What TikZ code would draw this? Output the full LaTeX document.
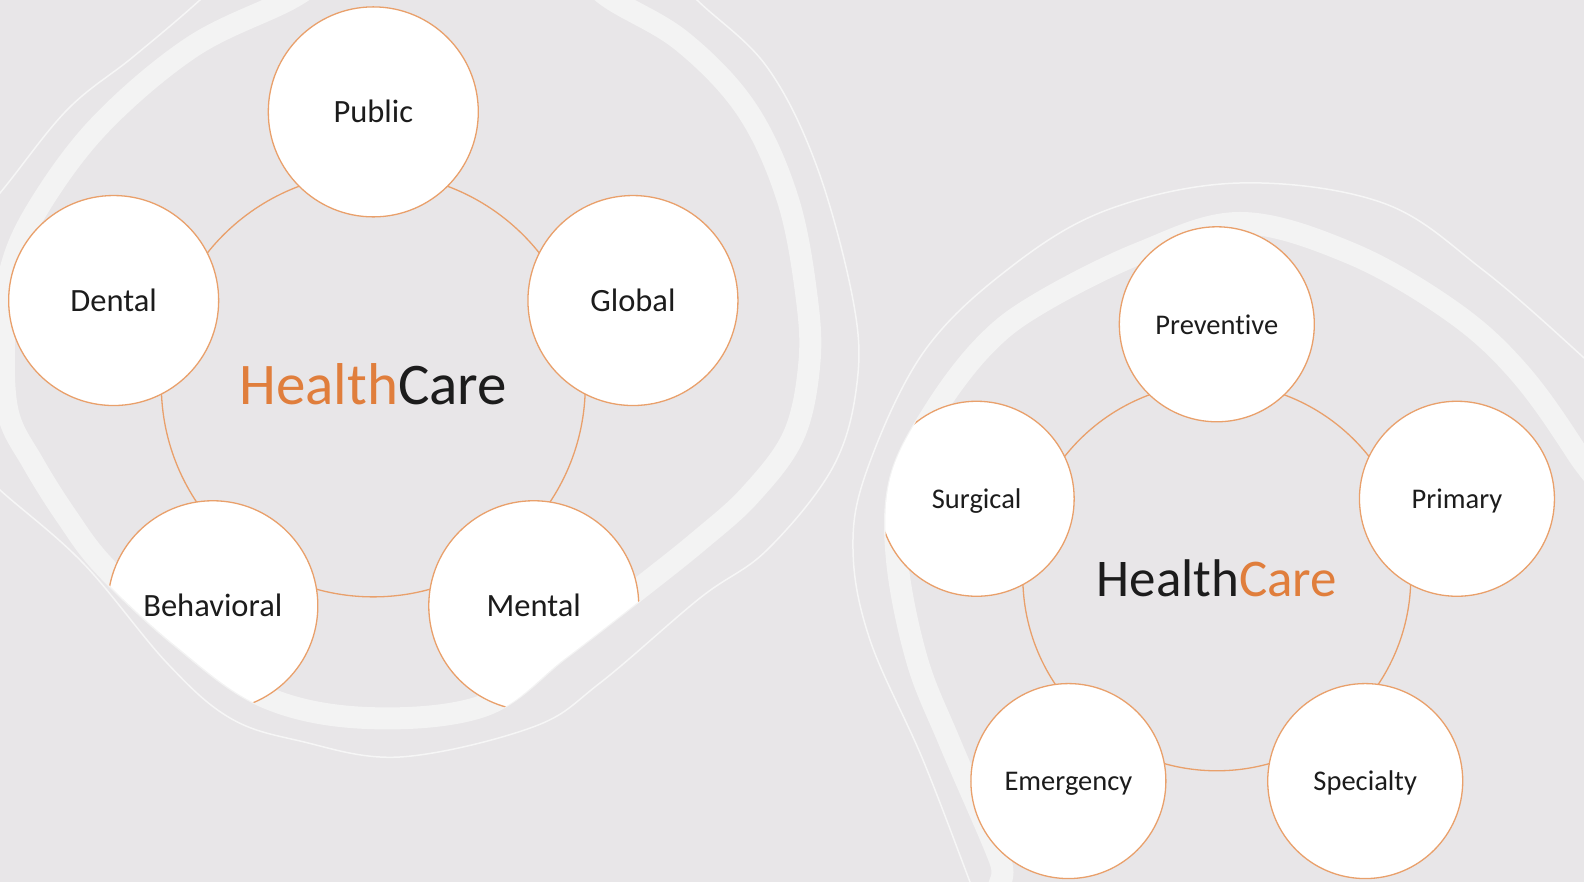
\documentclass[tikz,border=0pt]{standalone}
\usepackage{fontspec}
\setmainfont{Carlito}[Ligatures=NoCommon]
\usetikzlibrary{calc, positioning}
\definecolor{cbg}{HTML}{E8E6E8}
\definecolor{cband}{HTML}{F3F3F3}
\definecolor{cthin}{HTML}{F6F6F6}
\definecolor{cline}{HTML}{E9A06B}
\definecolor{corange}{HTML}{E07E3C}
\definecolor{cink}{HTML}{1C1C1C}
\tikzset{
  every picture/.style={line width=1.3pt},
  band/.style={draw=cband, line width=22pt},
  thinline/.style={draw=cthin, line width=1.5pt},
  ring/.style={circle, draw=cline, line width=1.3pt, inner sep=0pt},
  bubble/.style={circle, draw=cline, fill=white, line width=1.3pt, inner sep=0pt, text=cink, text depth=0pt},
  bubblebig/.style={bubble, minimum size=210pt, font=\fontsize{32.5}{39}\selectfont, text height=22pt},
  bubblesm/.style={bubble, minimum size=195pt, font=\fontsize{28.5}{34}\selectfont, text height=19.5pt},
  title/.style={text=cink, anchor=base, inner sep=0pt},
}
% background curves
\newcommand\lbandpath{plot[smooth cycle, tension=0.6] coordinates {(560,918) (455,938) (350,918) (288,882) (192,835) (100,757) (38,674) (10,610) (4,540) (8,469) (33,419) (67,365) (105,315) (180,245) (265,185) (367,164) (483,176) (560,232) (640,294) (700,342) (750,387) (793,445) (809,515) (807,582) (788,682) (747,772) (683,840) (613,882)}}
\newcommand\lthinpath{plot[smooth cycle, tension=0.6] coordinates {(640,940) (450,1000) (260,940) (200,882) (133,825) (67,772) (0,689) (-60,620) (-80,540) (-50,440) (0,392) (83,319) (167,219) (230,164) (300,141) (400,125) (533,155) (600,199) (700,284) (767,332) (833,415) (857,499) (853,582) (817,715) (767,815) (697,882)}}
\newcommand\rbandpath{plot[smooth cycle, tension=0.6] coordinates {(1150,-80) (1010,-20) (1000,22) (950,139) (917,222) (897,322) (900,402) (935,472) (985,537) (1040,579) (1140,629) (1240,659) (1350,629) (1450,572) (1517,512) (1577,429) (1640,322) (1660,100) (1550,-60)}}
\newcommand\rthinpath{plot[smooth, tension=0.6] coordinates {(985,-40) (970,0) (923,122) (870,242) (853,332) (867,412) (923,529) (1007,612) (1107,672) (1240,699) (1383,679) (1483,612) (1583,525) (1640,470)}}

\begin{document}
\begin{tikzpicture}[x=1pt, y=1pt]
  \useasboundingbox (0,0) rectangle (1584,882);
  \fill[cbg] (0,0) rectangle (1584,882);
  \coordinate (lc) at (373.3,497.1);
  \coordinate (rc) at (1216.8,305.2);

  % decorative bands
  \path[thinline] \lthinpath;
  \path[band] \lbandpath;
  \path[thinline] \rthinpath;
  \path[band] \rbandpath;

  % left cycle
  \begin{scope}
    \clip[scale around={1.03:(lc)}] \lbandpath;
    \node[ring, minimum size=424pt] (lring) at (lc) {};
    \node[bubblebig] (pub) at ($(lc)+(90:273)$) {Public};
    \node[bubblebig] (glob) at ($(lc)+(18:273)$) {Global};
    \node[bubblebig] (ment) at ($(lc)+(-54:273)$) {Mental};
    \node[bubblebig] (behav) at ($(lc)+(234:273)$) {Behavioral};
    \node[bubblebig] (dent) at ($(lc)+(162:273)$) {Dental};
    \node[title, font=\fontsize{59}{70}\selectfont] (ltitle) at ($(lc)+(0,-20)$) {\textcolor{corange}{Health}Care};
  \end{scope}

  % right cycle
  \begin{scope}
    \clip[scale around={1.03:(rc)}] \rbandpath;
    \node[ring, minimum size=388pt] (rring) at (rc) {};
    \node[bubblesm] (prev) at ($(rc)+(90:252.5)$) {Preventive};
    \node[bubblesm] (prim) at ($(rc)+(18:252.5)$) {Primary};
    \node[bubblesm] (spec) at ($(rc)+(-54:252.5)$) {Specialty};
    \node[bubblesm] (emer) at ($(rc)+(234:252.5)$) {Emergency};
    \node[bubblesm] (surg) at ($(rc)+(162:252.5)$) {Surgical};
    \node[title, font=\fontsize{53}{63}\selectfont] (rtitle) at ($(rc)+(0,-20)$) {Health\textcolor{corange}{Care}};
  \end{scope}
\end{tikzpicture}
\end{document}
